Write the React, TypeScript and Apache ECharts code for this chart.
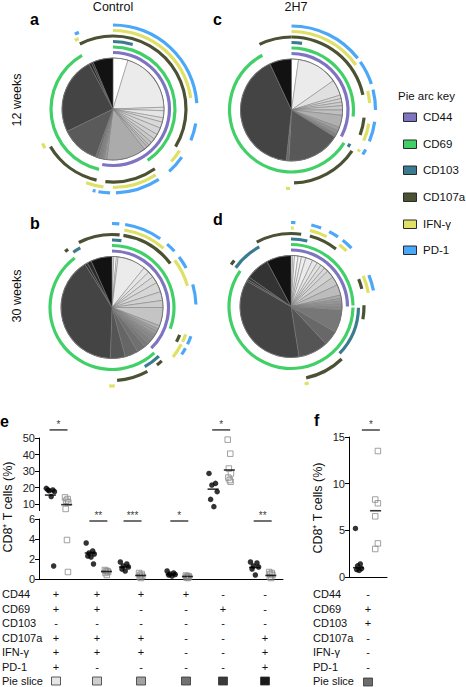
import React, { useEffect, useRef } from "react";
import * as echarts from "echarts";

const FONT = '"Liberation Sans", Arial, Helvetica, sans-serif';

// ---------- markers (pie arc key) ----------
const markerNames = ["CD44", "CD69", "CD103", "CD107a", "IFN-γ", "PD-1"];
const markerColors = ["#7f74c2", "#41d068", "#3b7b90", "#4b5234", "#dfe066", "#4ba7f7"];

// ---------- pie slices (degrees, grey) ----------
const pieA_deg = [17, 71, 4, 8, 5, 7, 8, 6, 5, 4, 3, 4, 45, 3, 2, 3, 2, 3, 44, 88, 3, 2, 23];
const pieA_grey = ["#ffffff", "#ebebeb", "#e2e2e2", "#e5e5e5", "#dddddd", "#d9d9d9", "#d5d5d5", "#d0d0d0", "#c9c9c9", "#c2c2c2", "#bdbdbd", "#b8b8b8", "#ababab", "#9a9a9a", "#8c8c8c", "#828282", "#787878", "#6e6e6e", "#5a5a5a", "#444444", "#2b2b2b", "#222222", "#121212"];

const pieC_deg = [8, 47, 18, 4, 4, 4, 5, 6, 14, 4, 4, 4, 61, 3, 149, 25];
const pieC_grey = ["#ffffff", "#ebebeb", "#e0e0e0", "#d8d8d8", "#d3d3d3", "#cecece", "#c8c8c8", "#c0c0c0", "#b0b0b0", "#a0a0a0", "#909090", "#808080", "#585858", "#6a6a6a", "#444444", "#121212"];

const pieB_deg = [2, 3, 2, 32, 7, 7, 8, 11, 10, 8, 21, 4, 3, 4, 3, 5, 5, 5, 10, 15, 17, 146, 3, 5, 24];
const pieB_grey = ["#ffffff", "#f7f7f7", "#f2f2f2", "#ebebeb", "#e6e6e6", "#e1e1e1", "#dbdbdb", "#d6d6d6", "#d1d1d1", "#cccccc", "#c4c4c4", "#b2b2b2", "#a6a6a6", "#9b9b9b", "#919191", "#888888", "#808080", "#787878", "#707070", "#666666", "#555555", "#444444", "#333333", "#2a2a2a", "#121212"];

const pieD_deg = [2, 2, 4, 4, 5, 8, 6, 5, 5, 5, 9, 10, 12, 4, 3, 3, 3, 4, 26, 17, 34, 129, 2, 3, 27, 28];
const pieD_grey = ["#ffffff", "#fafafa", "#f5f5f5", "#f0f0f0", "#eeeeee", "#ebebeb", "#e6e6e6", "#e2e2e2", "#dddddd", "#d8d8d8", "#d2d2d2", "#c8c8c8", "#bcbcbc", "#aaaaaa", "#a0a0a0", "#999999", "#909090", "#888888", "#777777", "#686868", "#555555", "#444444", "#3a3a3a", "#383838", "#333333", "#121212"];

// ---------- arcs per marker [startDeg, endDeg] clockwise from 12 o'clock ----------
const arcsA = [
  [[0, 191]],
  [[0, 146], [193, 330]],
  [[0, 17]],
  [[333, 121], [145, 186], [193, 239]],
  [[0, 82], [122, 132], [147, 180], [187, 200], [240, 244], [331, 334]],
  [[0, 86], [100, 112], [125, 138], [147, 178], [182, 190], [192, 194], [333, 336]],
];
const arcsC = [
  [[0, 118]],
  [[0, 96], [122, 332]],
  [[0, 9], [120, 123]],
  [[334, 78], [96, 110], [124, 178]],
  [[0, 55], [76, 85], [100, 113], [120, 122], [181, 184]],
  [[0, 52], [55, 72], [76, 90], [98, 112], [118, 122]],
];
const arcsB = [
  [[0, 136]],
  [[0, 110], [137, 323]],
  [[0, 8], [136, 151], [325, 332]],
  [[333, 6], [9, 53], [112, 118], [137, 142], [151, 176], [320, 323]],
  [[9, 41], [53, 74], [110, 116], [118, 129], [178, 182]],
  [[0, 5], [9, 35], [41, 48], [53, 62], [74, 88], [110, 116], [119, 124]],
];
const arcsD = [
  [[0, 90]],
  [[0, 89], [91, 305]],
  [[0, 14], [91, 134], [305, 332]],
  [[332, 8], [15, 38], [68, 76], [89, 100], [136, 168], [305, 309]],
  [[0, 2], [14, 27], [38, 45], [67, 80], [167, 170]],
  [[0, 3], [14, 21], [27, 34], [38, 46], [68, 79]],
];

// ---------- panel e data (% of CD8+ T cells) ----------
const groupPos = [0.48, 1.46, 2.3, 3.45, 4.48, 5.5];
const ctrlE = [
  [19.5, 18.5, 18, 17.5, 18.5, 14.5, 1.3],
  [3.6, 2.8, 2.6, 2.5, 2.3, 2.2, 1.5],
  [1.7, 1.5, 1.3, 1.2, 1.0, 0.8],
  [0.8, 0.6, 0.5, 0.45, 0.4, 0.3],
  [28.5, 22.5, 21.5, 17.5, 12.8, 8.4],
  [1.7, 1.6, 1.3, 1.2, 1.0, 0.4],
];
const h7E = [
  [14, 13, 12, 11, 7, 3.9, 0.7],
  [0.9, 0.8, 0.8, 0.7, 0.6, 0.4],
  [0.6, 0.5, 0.4, 0.3, 0.2, 0.1],
  [0.35, 0.3, 0.25, 0.2, 0.15, 0.1],
  [49, 40.5, 31.5, 28.5, 26, 24.5, 23.5],
  [0.7, 0.6, 0.5, 0.4, 0.2, 0.1],
];
const ctrlEMean = [15.4, 2.6, 1.2, 0.45, 19, 1.15];
const h7EMean = [9.6, 0.75, 0.35, 0.25, 30.6, 0.35];
const sigE = ["*", "**", "***", "*", "*", "**"];
const BREAK = 6;
const upperTicks = [10, 20, 30, 40, 50];

// ---------- panel f data ----------
const ctrlF = [5.2, 1.4, 1.2, 0.9, 0.8, 0.7];
const h7F = [13.5, 8.3, 7.9, 6.5, 3.6, 3.0];
const ctrlFMean = 1.0;
const h7FMean = 7.1;
const sigF = "*";

// ---------- table ----------
const rowLabels = ["CD44", "CD69", "CD103", "CD107a", "IFN-γ", "PD-1", "Pie slice"];
const tableE = [
  ["+", "+", "-", "+", "+", "+"],
  ["+", "+", "-", "+", "+", "-"],
  ["+", "-", "-", "+", "+", "-"],
  ["+", "-", "-", "-", "-", "-"],
  ["-", "+", "-", "-", "-", "-"],
  ["-", "-", "-", "+", "+", "+"],
];
const tableF = ["-", "+", "+", "-", "-", "-"];
const swatchE = ["#e6e6e6", "#cfcfcf", "#a2a2a2", "#727272", "#3a3a3a", "#1a1a1a"];
const swatchF = "#6c6c6c";

// jitter pattern (horizontal spread of dots in a column)
const jitter = [-0.1, 0.06, -0.03, 0.1, -0.06, 0.02, 0.08];

// ---------- layout ----------
const pieLayout = [
  { center: [113, 109], deg: pieA_deg, grey: pieA_grey, arcs: arcsA },
  { center: [291.5, 110], deg: pieC_deg, grey: pieC_grey, arcs: arcsC },
  { center: [112, 307.5], deg: pieB_deg, grey: pieB_grey, arcs: arcsB },
  { center: [291, 306.5], deg: pieD_deg, grey: pieD_grey, arcs: arcsD },
];
const PIE_R = 51;
const ringRadius = [56.5, 62, 67.5, 73, 78.5, 84];
const RING_HALF = 1.6;
const tableRowY = [594, 609, 623, 638, 652, 667, 681];
const tableColX = [56, 97, 141, 186, 223, 265];
const tableColXF = 368;

function ringData(arcs: number[][], color: string) {
  const segs: number[][] = [];
  arcs.forEach(([s, e]) => {
    if (s > e) {
      segs.push([s, 360]);
      segs.push([0, e]);
    } else segs.push([s, e]);
  });
  segs.sort((a, b) => a[0] - b[0]);
  const data: any[] = [];
  let cur = 0;
  const clear = { color: "rgba(0,0,0,0)", borderWidth: 0 };
  segs.forEach(([s, e]) => {
    if (s > cur) data.push({ value: s - cur, itemStyle: clear });
    const st = Math.max(s, cur);
    if (e > st) data.push({ value: e - st, itemStyle: { color, borderWidth: 0 } });
    cur = Math.max(cur, e);
  });
  if (cur < 360) data.push({ value: 360 - cur, itemStyle: clear });
  return data;
}

const basePie = {
  type: "pie",
  silent: true,
  startAngle: 90,
  clockwise: true,
  minAngle: 0,
  avoidLabelOverlap: false,
  label: { show: false },
  labelLine: { show: false },
  emphasis: { disabled: true },
  animation: false,
};

function buildOption() {
  const series: any[] = [];

  pieLayout.forEach((p) => {
    series.push({
      ...basePie,
      center: p.center,
      radius: [0, PIE_R],
      data: p.deg.map((v, i) => ({
        value: v,
        itemStyle: { color: p.grey[i], borderColor: "#7a7a7a", borderWidth: 0.5 },
      })),
    });
    series.push({
      ...basePie,
      center: p.center,
      radius: [PIE_R - 0.3, PIE_R + 0.5],
      data: [{ value: 1, itemStyle: { color: "#6a6a6a", borderWidth: 0 } }],
    });
    p.arcs.forEach((arcs, k) => {
      series.push({
        ...basePie,
        center: p.center,
        radius: [ringRadius[k] - RING_HALF, ringRadius[k] + RING_HALF],
        data: ringData(arcs, markerColors[k]),
      });
    });
  });

  // ---- panel e scatter ----
  const ctrlUp: number[][] = [], ctrlLo: number[][] = [], h7Up: number[][] = [], h7Lo: number[][] = [];
  ctrlE.forEach((vals, g) => {
    vals.forEach((v, i) => {
      const pt = [groupPos[g] - 0.2 + jitter[i % jitter.length], v];
      (v > BREAK ? ctrlUp : ctrlLo).push(pt);
    });
  });
  h7E.forEach((vals, g) => {
    vals.forEach((v, i) => {
      const pt = [groupPos[g] + 0.2 + jitter[i % jitter.length] * 0.4, v];
      (v > BREAK ? h7Up : h7Lo).push(pt);
    });
  });
  const meanUp: number[][] = [], meanLo: number[][] = [];
  ctrlEMean.forEach((m, g) => (m > BREAK ? meanUp : meanLo).push([groupPos[g] - 0.2, m]));
  h7EMean.forEach((m, g) => (m > BREAK ? meanUp : meanLo).push([groupPos[g] + 0.2, m]));

  const sigUp: any[] = [], sigLo: any[] = [];
  sigE.forEach((s, g) => {
    const hasUpper = Math.max(...ctrlE[g], ...h7E[g]) > BREAK;
    if (hasUpper) sigUp.push({ value: [groupPos[g], 54.9], name: s });
    else sigLo.push({ value: [groupPos[g], 5.8], name: s });
  });

  const dotStyle = { color: "#000" };
  const sqStyle = { color: "rgba(255,255,255,0)", borderColor: "#8a8a8a", borderWidth: 1 };
  const sigSeries = (data: any[], xi: number, yi: number) => ({
    type: "scatter",
    xAxisIndex: xi,
    yAxisIndex: yi,
    symbol: "rect",
    symbolSize: [18, 1.4],
    clip: false,
    silent: true,
    itemStyle: { color: "#000" },
    label: {
      show: true,
      position: "top",
      distance: 0,
      formatter: (p: any) => p.name,
      fontSize: 10,
      color: "#000",
      fontFamily: FONT,
    },
    data,
  });

  series.push(
    { type: "scatter", xAxisIndex: 0, yAxisIndex: 0, symbol: "circle", symbolSize: 5.5, itemStyle: dotStyle, data: ctrlUp, silent: true },
    { type: "scatter", xAxisIndex: 1, yAxisIndex: 1, symbol: "circle", symbolSize: 5.5, itemStyle: dotStyle, data: ctrlLo, silent: true },
    { type: "scatter", xAxisIndex: 0, yAxisIndex: 0, symbol: "rect", symbolSize: 5.5, itemStyle: sqStyle, data: h7Up, silent: true, clip: false },
    { type: "scatter", xAxisIndex: 1, yAxisIndex: 1, symbol: "rect", symbolSize: 5.5, itemStyle: sqStyle, data: h7Lo, silent: true, clip: false },
    { type: "scatter", xAxisIndex: 0, yAxisIndex: 0, symbol: "rect", symbolSize: [11, 1.6], itemStyle: { color: "#000" }, data: meanUp, silent: true },
    { type: "scatter", xAxisIndex: 1, yAxisIndex: 1, symbol: "rect", symbolSize: [11, 1.6], itemStyle: { color: "#000" }, data: meanLo, silent: true },
    sigSeries(sigUp, 0, 0),
    sigSeries(sigLo, 1, 1)
  );

  // ---- panel f ----
  series.push(
    { type: "scatter", xAxisIndex: 2, yAxisIndex: 2, symbol: "circle", symbolSize: 5.5, itemStyle: dotStyle, silent: true,
      data: ctrlF.map((v, i) => [0.5 + jitter[i % jitter.length] * 1.6, v]) },
    { type: "scatter", xAxisIndex: 2, yAxisIndex: 2, symbol: "rect", symbolSize: 5.5, itemStyle: sqStyle, silent: true,
      data: h7F.map((v, i) => [1.5 + (i % 2 === 0 ? 0.02 : -0.12), v]) },
    { type: "scatter", xAxisIndex: 2, yAxisIndex: 2, symbol: "rect", symbolSize: [11, 1.6], itemStyle: { color: "#000" }, silent: true,
      data: [[0.5, ctrlFMean], [1.4, h7FMean]] },
    sigSeries([{ value: [1.15, 15.75], name: sigF }], 2, 2)
  );

  const axisLineStyle = { show: true, onZero: false, lineStyle: { color: "#000", width: 1 } };
  const labelStyle = { fontSize: 11, color: "#222", fontFamily: FONT, margin: 4 };

  // ---- graphics (texts, legend, table) ----
  const g: any[] = [];
  const txt = (text: string, x: number, y: number, opt: any = {}) => {
    const align = opt.align || "left";
    g.push({
      type: "text",
      x,
      y,
      rotation: opt.rotation || 0,
      silent: true,
      style: {
        text,
        fill: opt.fill || "#111",
        fontSize: opt.fontSize || 11,
        fontWeight: opt.fontWeight || "normal",
        fontFamily: FONT,
        align,
        verticalAlign: "middle",
        textAlign: align,
        textVerticalAlign: "middle",
      },
    });
  };

  txt("Control", 113, 7, { align: "center", fontSize: 12.5 });
  txt("2H7", 296, 7, { align: "center", fontSize: 12.5 });
  txt("a", 30, 19, { fontSize: 16, fontWeight: "bold", fill: "#000" });
  txt("c", 213, 19, { fontSize: 16, fontWeight: "bold", fill: "#000" });
  txt("b", 30, 223, { fontSize: 16, fontWeight: "bold", fill: "#000" });
  txt("d", 213, 219, { fontSize: 16, fontWeight: "bold", fill: "#000" });
  txt("e", 0, 421, { fontSize: 16, fontWeight: "bold", fill: "#000" });
  txt("f", 314, 420, { fontSize: 16, fontWeight: "bold", fill: "#000" });
  txt("12 weeks", 17, 100, { align: "center", fontSize: 12.5, rotation: Math.PI / 2 });
  txt("30 weeks", 17, 296, { align: "center", fontSize: 12.5, rotation: Math.PI / 2 });
  txt("CD8⁺ T cells (%)", 8, 507, { align: "center", fontSize: 12.5, rotation: Math.PI / 2 });
  txt("CD8⁺ T cells (%)", 318, 508, { align: "center", fontSize: 12.5, rotation: Math.PI / 2 });

  // legend
  txt("Pie arc key", 398, 96, { fontSize: 11.5 });
  const legendY = [117, 144, 170, 197, 224, 250];
  markerNames.forEach((name, k) => {
    g.push({
      type: "rect",
      silent: true,
      shape: { x: 403.5, y: legendY[k] - 4, width: 13, height: 8.5 },
      style: { fill: markerColors[k], stroke: "#2a2a2a", lineWidth: 1 },
    });
    txt(name, 423, legendY[k], { fontSize: 11.5 });
  });

  // table
  rowLabels.forEach((lab, r) => {
    txt(lab, 2, tableRowY[r], { fontSize: 11 });
    txt(lab, 313, tableRowY[r], { fontSize: 11 });
  });
  tableE.forEach((col, c) => {
    col.forEach((s, r) => txt(s, tableColX[c], tableRowY[r], { align: "center", fontSize: 11 }));
    g.push({
      type: "rect",
      silent: true,
      shape: { x: tableColX[c] - 4.5, y: tableRowY[6] - 4, width: 9, height: 8 },
      style: { fill: swatchE[c], stroke: "#333", lineWidth: 0.8 },
    });
  });
  tableF.forEach((s, r) => txt(s, tableColXF, tableRowY[r], { align: "center", fontSize: 11 }));
  g.push({
    type: "rect",
    silent: true,
    shape: { x: tableColXF - 4.5, y: tableRowY[6] - 3, width: 9, height: 8 },
    style: { fill: swatchF, stroke: "#333", lineWidth: 0.8 },
  });

  return {
    animation: false,
    backgroundColor: "#ffffff",
    textStyle: { fontFamily: FONT },
    grid: [
      { left: 39, top: 438, width: 244, height: 72.6 },
      { left: 39, top: 519, width: 244, height: 60 },
      { left: 349, top: 437, width: 38, height: 140 },
    ],
    xAxis: [
      { gridIndex: 0, type: "value", min: 0, max: 6, show: false },
      { gridIndex: 1, type: "value", min: 0, max: 6, axisLine: axisLineStyle, axisTick: { show: false }, axisLabel: { show: false }, splitLine: { show: false } },
      { gridIndex: 2, type: "value", min: 0, max: 2, axisLine: axisLineStyle, axisTick: { show: false }, axisLabel: { show: false }, splitLine: { show: false } },
    ],
    yAxis: [
      { gridIndex: 0, type: "value", min: BREAK, max: 50, axisLine: axisLineStyle,
        axisTick: { show: true, length: 4, customValues: upperTicks, lineStyle: { color: "#000" } },
        axisLabel: { ...labelStyle, customValues: upperTicks }, splitLine: { show: false } },
      { gridIndex: 1, type: "value", min: 0, max: BREAK, interval: 2, axisLine: axisLineStyle,
        axisTick: { show: true, length: 4, lineStyle: { color: "#000" } }, axisLabel: labelStyle, splitLine: { show: false } },
      { gridIndex: 2, type: "value", min: 0, max: 15, interval: 5, axisLine: axisLineStyle,
        axisTick: { show: true, length: 4, lineStyle: { color: "#000" } }, axisLabel: labelStyle, splitLine: { show: false } },
    ],
    series,
    graphic: g,
  };
}

export default function App() {
  const ref = useRef<HTMLDivElement>(null);
  useEffect(() => {
    if (!ref.current) return;
    const chart = echarts.init(ref.current, undefined, { renderer: "svg" });
    chart.setOption(buildOption() as any);
    return () => chart.dispose();
  }, []);
  return (
    <div
      ref={ref}
      style={{ position: "absolute", left: 0, top: 0, width: 466, height: 687, background: "#fff" }}
    />
  );
}
